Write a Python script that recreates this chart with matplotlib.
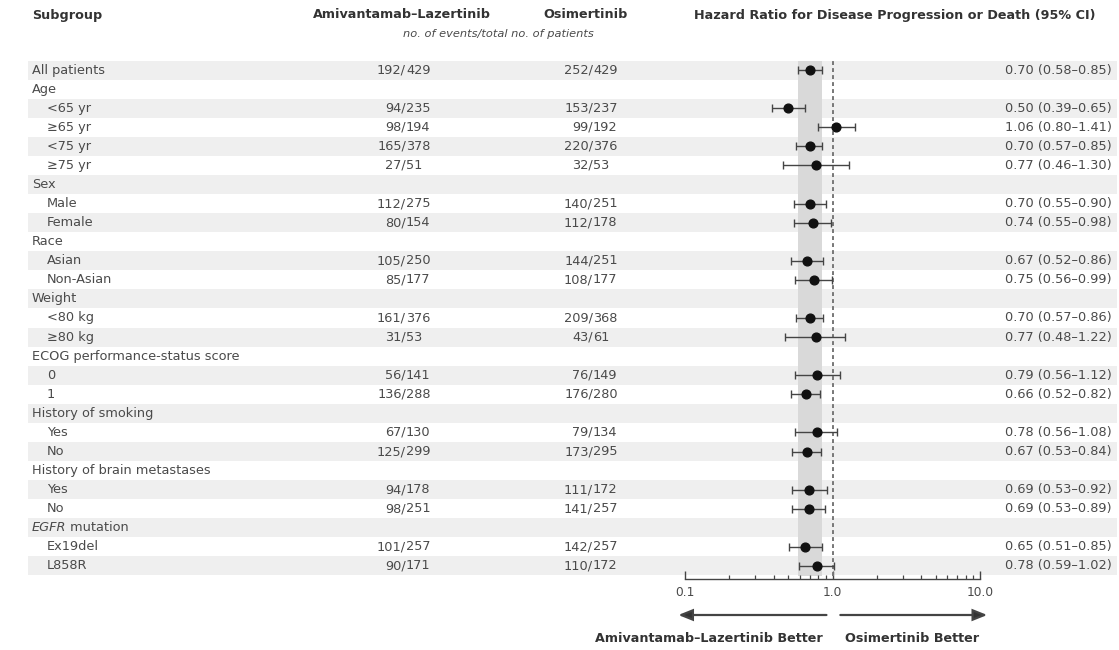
import matplotlib
matplotlib.use("Agg")
import matplotlib.pyplot as plt
from matplotlib.ticker import FixedLocator, LogLocator, NullFormatter, FixedFormatter

plt.rcParams['font.family'] = ['DejaVu Sans']

# ---------------- data ----------------
labels = ["All patients", "Age", "<65 yr", "\u226565 yr", "<75 yr", "\u226575 yr",
          "Sex", "Male", "Female", "Race", "Asian", "Non-Asian",
          "Weight", "<80 kg", "\u226580 kg", "ECOG performance-status score", "0", "1",
          "History of smoking", "Yes", "No", "History of brain metastases", "Yes", "No",
          "EGFR mutation", "Ex19del", "L858R"]
is_header = [False, True, False, False, False, False,
             True, False, False, True, False, False,
             True, False, False, True, False, False,
             True, False, False, True, False, False,
             True, False, False]
ami_events = [192, None, 94, 98, 165, 27, None, 112, 80, None, 105, 85, None, 161, 31,
              None, 56, 136, None, 67, 125, None, 94, 98, None, 101, 90]
ami_total = [429, None, 235, 194, 378, 51, None, 275, 154, None, 250, 177, None, 376, 53,
             None, 141, 288, None, 130, 299, None, 178, 251, None, 257, 171]
osi_events = [252, None, 153, 99, 220, 32, None, 140, 112, None, 144, 108, None, 209, 43,
              None, 76, 176, None, 79, 173, None, 111, 141, None, 142, 110]
osi_total = [429, None, 237, 192, 376, 53, None, 251, 178, None, 251, 177, None, 368, 61,
             None, 149, 280, None, 134, 295, None, 172, 257, None, 257, 172]
hr = [0.70, None, 0.50, 1.06, 0.70, 0.77, None, 0.70, 0.74, None, 0.67, 0.75, None, 0.70, 0.77,
      None, 0.79, 0.66, None, 0.78, 0.67, None, 0.69, 0.69, None, 0.65, 0.78]
ci_lo = [0.58, None, 0.39, 0.80, 0.57, 0.46, None, 0.55, 0.55, None, 0.52, 0.56, None, 0.57, 0.48,
         None, 0.56, 0.52, None, 0.56, 0.53, None, 0.53, 0.53, None, 0.51, 0.59]
ci_hi = [0.85, None, 0.65, 1.41, 0.85, 1.30, None, 0.90, 0.98, None, 0.86, 0.99, None, 0.86, 1.22,
         None, 1.12, 0.82, None, 1.08, 0.84, None, 0.92, 0.89, None, 0.85, 1.02]
overall_ci = (0.58, 0.85)
xticks = [0.1, 1.0, 10.0]
xtick_labels = ["0.1", "1.0", "10.0"]

# ---------------- layout ----------------
W, H = 1119, 650
fig = plt.figure(figsize=(W / 100, H / 100), dpi=100)
TXT = '#4a4a4a'
HDR = '#333333'
FS = 9.3
HFS = 9.2

top_px, bot_px = 60.5, 575.5
n = len(labels)
rect_y = (H - bot_px) / H
rect_h = (bot_px - top_px) / H

ax = fig.add_axes([0, rect_y, 1, rect_h])
ax.set_xlim(0, W)
ax.set_ylim(n - 0.5, -0.5)
ax.axis('off')

rows = list(range(n))
for i in rows:
    if i % 2 == 0:
        ax.axhspan(i - 0.5, i + 0.5, xmin=28 / W, xmax=1117 / W, color='#efefef', lw=0, zorder=0)

for i, (lab, hdr) in enumerate(zip(labels, is_header)):
    x = 32 if (hdr or i == 0) else 47
    if lab == "EGFR mutation":
        t = ax.text(x, i, "EGFR", style='italic', fontsize=FS, color=TXT, va='center', ha='left')
        ax.annotate(" mutation", xy=(1, 0.5), xycoords=t, fontsize=FS, color=TXT,
                    va='center', ha='left')
    else:
        ax.text(x, i, lab, fontsize=FS, color=TXT, va='center', ha='left')
    if ami_events[i] is not None:
        ax.text(406, i, f"{ami_events[i]}/", fontsize=FS, color=TXT, va='center', ha='right')
        ax.text(406, i, f"{ami_total[i]}", fontsize=FS, color=TXT, va='center', ha='left')
        ax.text(593, i, f"{osi_events[i]}/", fontsize=FS, color=TXT, va='center', ha='right')
        ax.text(593, i, f"{osi_total[i]}", fontsize=FS, color=TXT, va='center', ha='left')
        ax.text(1112, i, f"{hr[i]:.2f} ({ci_lo[i]:.2f}\u2013{ci_hi[i]:.2f})",
                fontsize=FS, color=TXT, va='center', ha='right')

# headers
def ftext(x, y, s, **kw):
    fig.text(x / W, 1 - y / H, s, **kw)

ftext(32, 15, "Subgroup", fontsize=HFS, fontweight='bold', color=HDR, va='center', ha='left')
ftext(402, 15, "Amivantamab\u2013Lazertinib", fontsize=HFS, fontweight='bold', color=HDR, va='center', ha='center')
ftext(586, 15, "Osimertinib", fontsize=HFS, fontweight='bold', color=HDR, va='center', ha='center')
ftext(895, 15, "Hazard Ratio for Disease Progression or Death (95% CI)", fontsize=HFS,
      fontweight='bold', color=HDR, va='center', ha='center')
ftext(498, 34, "no. of events/total no. of patients", fontsize=8.2, style='italic',
      color=TXT, va='center', ha='center')

# forest axes
x0, x1 = 685, 980
axf = fig.add_axes([x0 / W, rect_y, (x1 - x0) / W, rect_h])
axf.patch.set_alpha(0)
axf.set_xscale('log')
axf.set_xlim(0.1, 10)
axf.set_ylim(n - 0.5, -0.5)
axf.axvspan(overall_ci[0], overall_ci[1], color='#d9d9d9', lw=0, zorder=1)
axf.axvline(1.0, color='#777777', lw=1.4, ls=(0, (2, 1.6)), zorder=2)

pr = [i for i in rows if hr[i] is not None]
hv = [hr[i] for i in pr]
lo = [hr[i] - ci_lo[i] for i in pr]
hi = [ci_hi[i] - hr[i] for i in pr]
axf.errorbar(hv, pr, xerr=[lo, hi], fmt='o', ms=6.3, mfc='#111111', mec='#111111',
             ecolor='#444444', elinewidth=1.0, capsize=2.6, capthick=1.0, zorder=3)

for s in ['top', 'right', 'left']:
    axf.spines[s].set_visible(False)
axf.spines['bottom'].set_position(('outward', 2.6))
axf.spines['bottom'].set_color('#444444')
axf.spines['bottom'].set_linewidth(1.0)
axf.set_yticks([])
axf.xaxis.set_major_locator(FixedLocator(xticks))
axf.xaxis.set_major_formatter(FixedFormatter(xtick_labels))
axf.xaxis.set_minor_locator(LogLocator(base=10, subs=range(2, 10)))
axf.xaxis.set_minor_formatter(NullFormatter())
axf.tick_params(axis='x', which='major', direction='in', length=5.5, width=1, color='#444444',
                labelsize=8.8, labelcolor=TXT, pad=5)
axf.tick_params(axis='x', which='minor', direction='in', length=3.2, width=0.9, color='#444444')

# arrows: shaft then a solid narrow head
arrow_y = H - 615
axf.annotate('', xy=(0.09, arrow_y), xytext=(0.91, arrow_y), xycoords=('data', 'figure pixels'),
             textcoords=('data', 'figure pixels'),
             arrowprops=dict(arrowstyle='-|>,head_length=0.7,head_width=0.28', color='#666666',
                             fc='#333333', ec='#444444', lw=1.6, mutation_scale=12,
                             shrinkA=0, shrinkB=0, joinstyle='miter'))
axf.annotate('', xy=(11.2, arrow_y), xytext=(1.13, arrow_y), xycoords=('data', 'figure pixels'),
             textcoords=('data', 'figure pixels'),
             arrowprops=dict(arrowstyle='-|>,head_length=0.7,head_width=0.28', color='#666666',
                             fc='#333333', ec='#444444', lw=1.6, mutation_scale=12,
                             shrinkA=0, shrinkB=0, joinstyle='miter'))
ftext(823, 638, "Amivantamab\u2013Lazertinib Better", fontsize=HFS, fontweight='bold',
      color=HDR, va='center', ha='right')
ftext(845, 638, "Osimertinib Better", fontsize=HFS, fontweight='bold',
      color=HDR, va='center', ha='left')

fig.savefig('out.png', dpi=100, facecolor='white')
